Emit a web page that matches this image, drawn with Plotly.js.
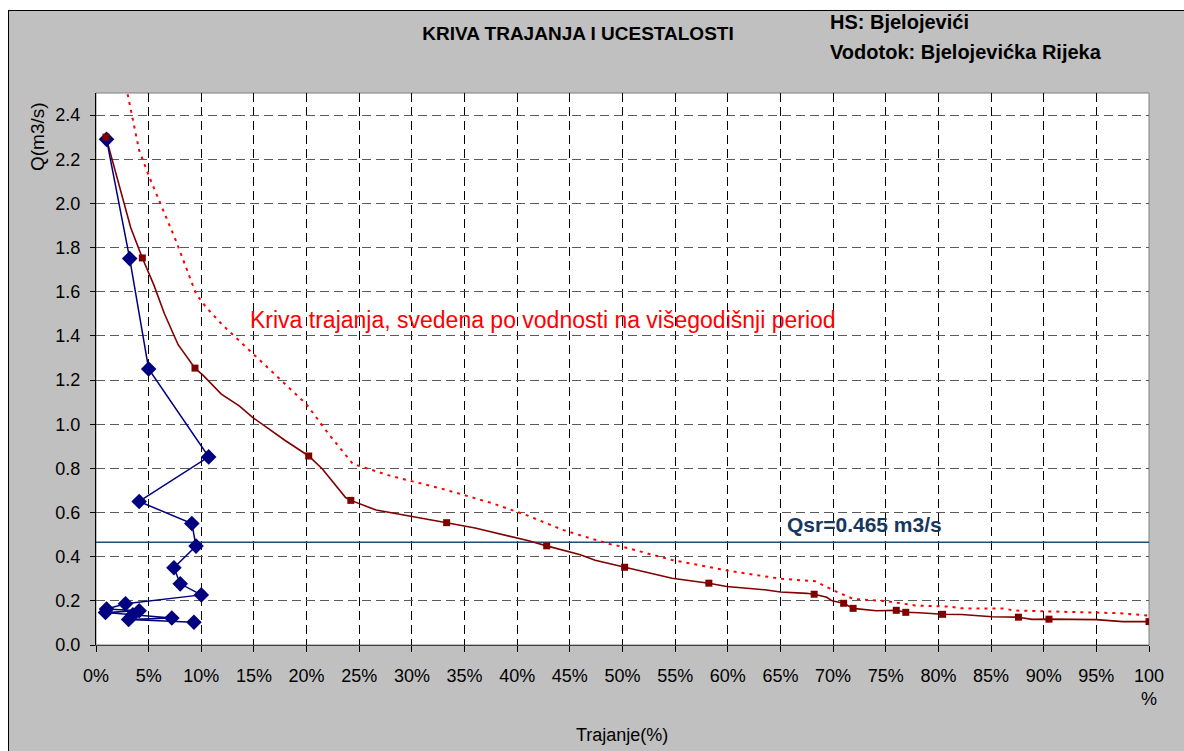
<!DOCTYPE html>
<html>
<head>
<meta charset="utf-8">
<script src="https://cdn.plot.ly/plotly-3.0.1.min.js"></script>
<style>
html,body{margin:0;padding:0;background:#fff;overflow:hidden;width:1184px;height:751px;}
#frame{position:absolute;left:8px;top:10px;width:1300px;height:900px;border:1px solid #000;background:#C0C0C0;}
#chart{position:absolute;left:0;top:0;width:1200px;height:760px;}
</style>
</head>
<body>
<div id="frame"><div id="chart"></div></div>
<script>
// ---- data ----
// duration curve (line through many points)
const durLineX = [0.95, 2.0, 3.3, 4.4, 5.5, 6.5, 7.8, 9.4, 10.2, 11.9, 13.6, 14.9, 16.5, 18.0, 20.2, 21.5, 23.7, 24.2, 26.6, 30.0, 33.3, 36.0, 38.5, 41.0, 42.8, 46.0, 47.4, 50.2, 54.7, 58.2, 59.9, 63.5, 65.0, 67.5, 68.2, 69.4, 69.9, 71.0, 71.9, 74.1, 76.0, 76.9, 78.2, 80.4, 82.2, 85.1, 87.6, 88.9, 90.5, 95.0, 97.5, 100];
const durLineQ = [2.30, 2.12, 1.89, 1.753, 1.63, 1.50, 1.36, 1.254, 1.22, 1.136, 1.083, 1.03, 0.975, 0.925, 0.856, 0.797, 0.668, 0.655, 0.611, 0.583, 0.554, 0.53, 0.503, 0.473, 0.449, 0.409, 0.384, 0.352, 0.302, 0.28, 0.265, 0.25, 0.24, 0.234, 0.23, 0.216, 0.20, 0.189, 0.166, 0.155, 0.157, 0.148, 0.146, 0.139, 0.138, 0.128, 0.126, 0.116, 0.117, 0.115, 0.106, 0.106];
// duration curve markers
const durMarkX = [0.95, 4.4, 9.4, 20.2, 24.2, 33.3, 42.8, 50.2, 58.2, 68.2, 71.0, 71.9, 76.0, 76.9, 80.4, 87.6, 90.5, 100];
const durMarkQ = [2.30, 1.753, 1.254, 0.856, 0.655, 0.554, 0.449, 0.352, 0.28, 0.23, 0.189, 0.166, 0.157, 0.148, 0.139, 0.126, 0.117, 0.106];
// frequency (ucestalost)
const freqX = [1.0, 3.2, 5.0, 10.7, 4.1, 9.1, 9.5, 7.4, 8.0, 10.0, 2.8, 1.0, 4.1, 0.9, 3.5, 7.2, 3.1, 9.3];
const freqQ = [2.29, 1.75, 1.25, 0.852, 0.65, 0.55, 0.448, 0.35, 0.277, 0.227, 0.187, 0.163, 0.155, 0.147, 0.137, 0.122, 0.116, 0.103];
// duration curve reduced to long-term period (dotted)
const longX = [2.85, 3.2, 4.1, 5.06, 7.6, 9.5, 10.45, 12.0, 14.9, 20.0, 22.1, 24.4, 27.9, 33.0, 37.7, 41.0, 44.4, 48.7, 50.0, 54.7, 60.0, 65.0, 68.3, 70.1, 71.9, 75.2, 77.8, 81.1, 82.2, 86.2, 87.3, 97.2, 100];
const longQ = [2.53, 2.45, 2.24, 2.12, 1.83, 1.59, 1.53, 1.45, 1.32, 1.09, 0.955, 0.82, 0.767, 0.706, 0.641, 0.586, 0.52, 0.458, 0.445, 0.385, 0.337, 0.30, 0.289, 0.246, 0.209, 0.198, 0.179, 0.174, 0.166, 0.165, 0.156, 0.144, 0.133];
// mean discharge
const qsr = 0.465;
const qsrRange = [0, 100];
// ticks
const xTickVals = [0,5,10,15,20,25,30,35,40,45,50,55,60,65,70,75,80,85,90,95,100];
const xTickText = ['0%','5%','10%','15%','20%','25%','30%','35%','40%','45%','50%','55%','60%','65%','70%','75%','80%','85%','90%','95%','100<br>%'];

// ---- texts ----
const titleText = 'KRIVA TRAJANJA I UCESTALOSTI';
const hsText = 'HS: Bjelojevići';
const vodText = 'Vodotok: Bjelojevićka Rijeka';
const curveLabel = 'Kriva trajanja, svedena po vodnosti na višegodišnji period';
const qsrLabel = 'Qsr=0.465 m3/s';
const xTitle = 'Trajanje(%)';
const yTitle = 'Q(m3/s)';

// ---- geometry ----
const DIVX = 9, DIVY = 11, DW = 1200, DH = 760;
const L = 87, T = 82, W = 1053, H = 552;
const px2x = p => (p - DIVX - L) / W;
const py2y = p => 1 - (p - DIVY - T) / H;
const FONT = 'Liberation Sans, Arial, sans-serif';

const traces = [
  {x: qsrRange, y: [qsr, qsr], mode: 'lines', line: {color: '#1F4E79', width: 1.5}, hoverinfo: 'skip'},
  {x: longX, y: longQ, mode: 'lines', line: {color: '#FF0000', width: 2, dash: '3px,5px'}},
  {x: durLineX, y: durLineQ, mode: 'lines', line: {color: '#800000', width: 1.6}},
  {x: freqX, y: freqQ, mode: 'lines+markers', line: {color: '#000080', width: 1.5},
   marker: {symbol: 'diamond', size: 12, color: '#000080'}},
  {x: durMarkX, y: durMarkQ, mode: 'markers', marker: {symbol: 'square', size: 7, color: '#800000'}}
];

const layout = {
  width: DW, height: DH,
  margin: {l: L, r: DW - L - W, t: T, b: DH - T - H, pad: 0},
  paper_bgcolor: '#C0C0C0',
  plot_bgcolor: '#FFFFFF',
  showlegend: false,
  font: {family: FONT, size: 18, color: '#000'},
  title: {text: '<b>' + titleText + '</b>', font: {family: FONT, size: 19, color: '#000'},
          xref: 'container', yref: 'container', x: (578 - DIVX) / DW, xanchor: 'center',
          y: 1 - (33 - DIVY) / DH, yanchor: 'middle'},
  xaxis: {range: [0, 100], tickmode: 'array', tickvals: xTickVals, ticktext: xTickText,
          showgrid: true, gridcolor: '#000', gridwidth: 1, griddash: '9px,5px',
          showline: true, linecolor: '#404040', linewidth: 1.2,
          ticks: 'outside', ticklen: 6, tickcolor: '#000', tickwidth: 1,
          ticklabelstandoff: 8, tickfont: {family: FONT, size: 18, color: '#000'}, zeroline: false},
  yaxis: {range: [0, 2.5], tick0: 0, dtick: 0.2, tickformat: '.1f',
          showgrid: true, gridcolor: '#5A5A5A', gridwidth: 1, griddash: '9px,5px',
          showline: true, linecolor: '#000', linewidth: 1,
          ticks: 'outside', ticklen: 5, tickcolor: '#000', tickwidth: 1,
          ticklabelstandoff: 6, tickfont: {family: FONT, size: 18, color: '#000'}, zeroline: false},
  shapes: [
    {type: 'rect', xref: 'paper', yref: 'paper', x0: 0, x1: 1, y0: 0, y1: 1,
     line: {color: '#808080', width: 1}, layer: 'below'}
  ],
  annotations: [
    {text: '<b>' + hsText + '</b>', xref: 'paper', yref: 'paper', x: px2x(828), y: py2y(22),
     xanchor: 'left', yanchor: 'middle', showarrow: false, font: {family: FONT, size: 20, color: '#000'}},
    {text: '<b>' + vodText + '</b>', xref: 'paper', yref: 'paper', x: px2x(828), y: py2y(52),
     xanchor: 'left', yanchor: 'middle', showarrow: false, font: {family: FONT, size: 20, color: '#000'}},
    {text: curveLabel, xref: 'paper', yref: 'paper', x: px2x(248), y: py2y(320),
     xanchor: 'left', yanchor: 'middle', showarrow: false, font: {family: FONT, size: 23, color: '#FF0000'}},
    {text: '<b>' + qsrLabel + '</b>', xref: 'paper', yref: 'paper', x: px2x(864), y: py2y(524),
     xanchor: 'center', yanchor: 'middle', showarrow: false, font: {family: FONT, size: 21, color: '#17375E'}},
    {text: xTitle, xref: 'paper', yref: 'paper', x: px2x(622), y: py2y(735),
     xanchor: 'center', yanchor: 'middle', showarrow: false, font: {family: FONT, size: 18, color: '#000'}},
    {text: yTitle, xref: 'paper', yref: 'paper', x: px2x(37), y: py2y(137), textangle: -90,
     xanchor: 'center', yanchor: 'middle', showarrow: false, font: {family: FONT, size: 19, color: '#000'}}
  ]
};

Plotly.newPlot('chart', traces, layout, {staticPlot: true, displayModeBar: false});
</script>
</body>
</html>
